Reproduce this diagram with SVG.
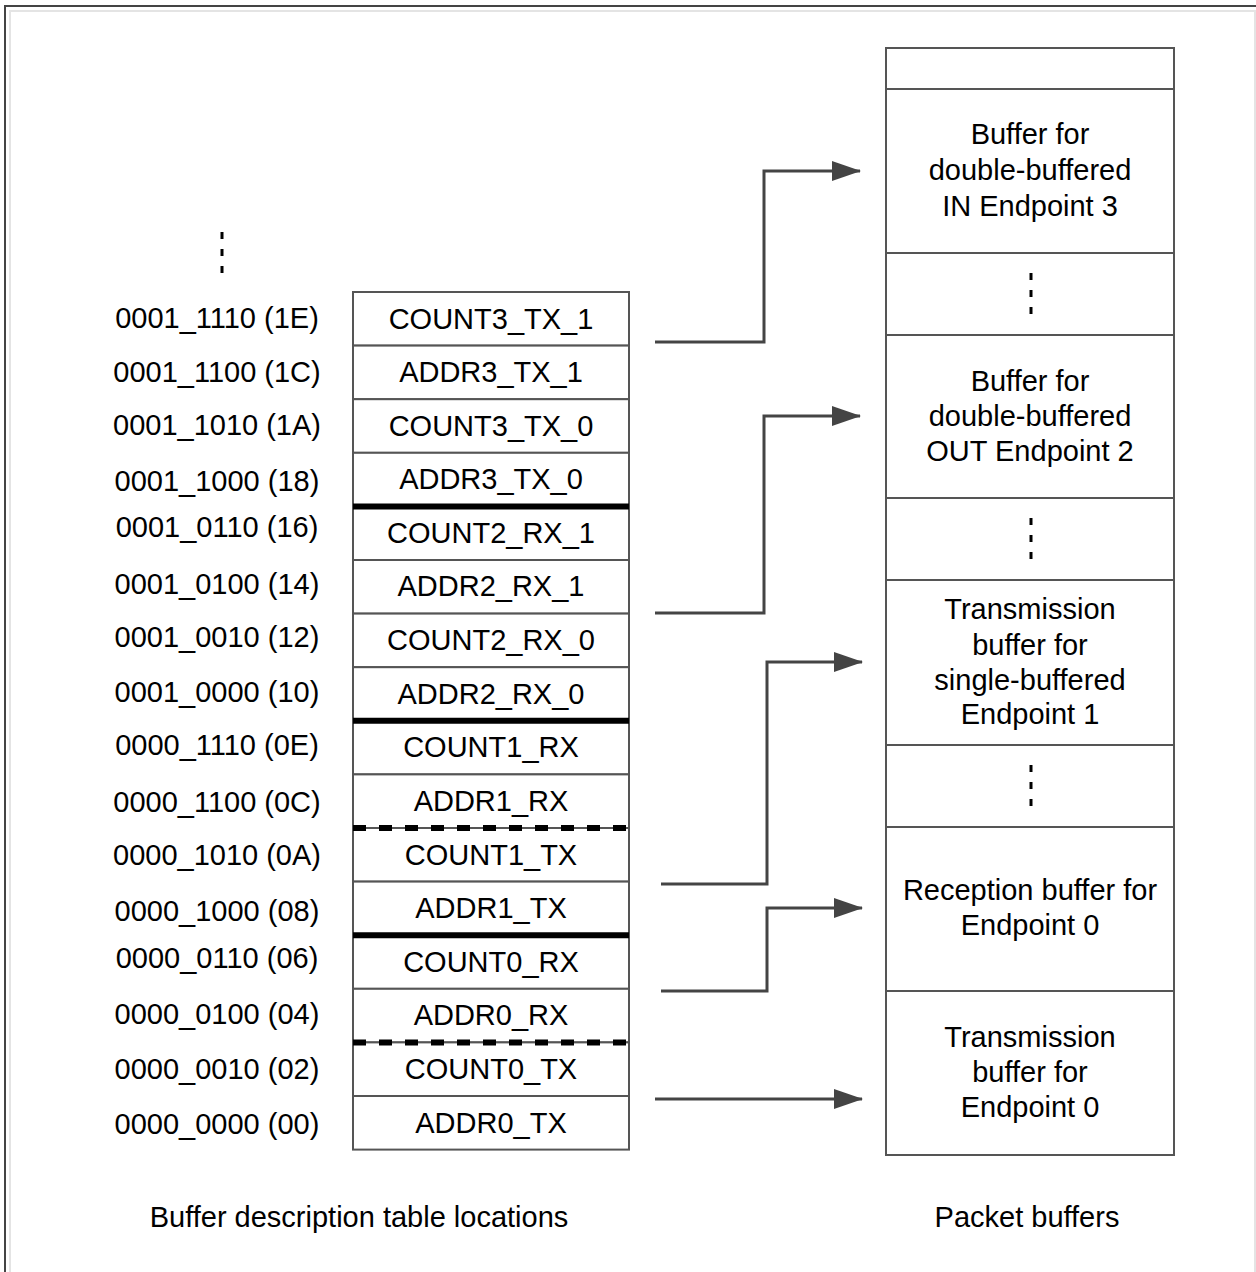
<svg xmlns="http://www.w3.org/2000/svg" width="1256" height="1272" viewBox="0 0 1256 1272">
<defs>
<style>
text{font-family:"Liberation Sans",Arial,sans-serif;font-size:29px;fill:#000;text-anchor:middle}
.cell{fill:#fff;stroke:#555;stroke-width:2}
.thick{stroke:#000;stroke-width:6}
.dash{stroke:#000;stroke-width:6;stroke-dasharray:13 13}
.dots{stroke:#000;stroke-width:3;stroke-dasharray:7 10}
.conn{fill:none;stroke:#444;stroke-width:3}
</style>
<marker id="ah" viewBox="0 0 29 20" refX="28" refY="10" markerWidth="29" markerHeight="20" markerUnits="userSpaceOnUse" orient="auto">
<path d="M0,0 L29,10 L0,20 Z" fill="#444"/>
</marker>
</defs>
<rect x="0" y="0" width="1256" height="1272" fill="#fff"/>
<rect x="5" y="6" width="1258" height="1280" fill="none" stroke="#444" stroke-width="2"/>
<rect x="10" y="11" width="1245" height="1270" fill="none" stroke="#e4e4e4" stroke-width="2"/>

<line class="dots" x1="222" y1="232" x2="222" y2="275"/>

<g id="addresses">
<text x="217" y="328">0001_1110 (1E)</text>
<text x="217" y="382">0001_1100 (1C)</text>
<text x="217" y="435">0001_1010 (1A)</text>
<text x="217" y="491">0001_1000 (18)</text>
<text x="217" y="537">0001_0110 (16)</text>
<text x="217" y="594">0001_0100 (14)</text>
<text x="217" y="647">0001_0010 (12)</text>
<text x="217" y="702">0001_0000 (10)</text>
<text x="217" y="755">0000_1110 (0E)</text>
<text x="217" y="812">0000_1100 (0C)</text>
<text x="217" y="865">0000_1010 (0A)</text>
<text x="217" y="921">0000_1000 (08)</text>
<text x="217" y="968">0000_0110 (06)</text>
<text x="217" y="1024">0000_0100 (04)</text>
<text x="217" y="1079">0000_0010 (02)</text>
<text x="217" y="1134">0000_0000 (00)</text>
</g>

<g id="table">
<rect class="cell" x="353" y="292" width="276" height="53.6"/><text x="491" y="329">COUNT3_TX_1</text>
<rect class="cell" x="353" y="345.6" width="276" height="53.6"/><text x="491" y="382">ADDR3_TX_1</text>
<rect class="cell" x="353" y="399.2" width="276" height="53.6"/><text x="491" y="436">COUNT3_TX_0</text>
<rect class="cell" x="353" y="452.8" width="276" height="53.6"/><text x="491" y="489">ADDR3_TX_0</text>
<rect class="cell" x="353" y="506.4" width="276" height="53.6"/><text x="491" y="543">COUNT2_RX_1</text>
<rect class="cell" x="353" y="560" width="276" height="53.6"/><text x="491" y="596">ADDR2_RX_1</text>
<rect class="cell" x="353" y="613.6" width="276" height="53.6"/><text x="491" y="650">COUNT2_RX_0</text>
<rect class="cell" x="353" y="667.2" width="276" height="53.6"/><text x="491" y="704">ADDR2_RX_0</text>
<rect class="cell" x="353" y="720.8" width="276" height="53.6"/><text x="491" y="757">COUNT1_RX</text>
<rect class="cell" x="353" y="774.4" width="276" height="53.6"/><text x="491" y="811">ADDR1_RX</text>
<rect class="cell" x="353" y="828" width="276" height="53.6"/><text x="491" y="865">COUNT1_TX</text>
<rect class="cell" x="353" y="881.6" width="276" height="53.6"/><text x="491" y="918">ADDR1_TX</text>
<rect class="cell" x="353" y="935.2" width="276" height="53.6"/><text x="491" y="972">COUNT0_RX</text>
<rect class="cell" x="353" y="988.8" width="276" height="53.6"/><text x="491" y="1025">ADDR0_RX</text>
<rect class="cell" x="353" y="1042.4" width="276" height="53.6"/><text x="491" y="1079">COUNT0_TX</text>
<rect class="cell" x="353" y="1096" width="276" height="53.6"/><text x="491" y="1133">ADDR0_TX</text>
<line class="thick" x1="353" y1="506.4" x2="629" y2="506.4"/>
<line class="thick" x1="353" y1="720.8" x2="629" y2="720.8"/>
<line class="thick" x1="353" y1="935.2" x2="629" y2="935.2"/>
<line class="dash" x1="353" y1="828" x2="629" y2="828"/>
<line class="dash" x1="353" y1="1042.4" x2="629" y2="1042.4"/>
</g>

<g id="buffers">
<rect class="cell" x="886" y="48" width="288" height="41"/>
<g id="buf-in3">
<rect class="cell" x="886" y="89" width="288" height="164"/>
<text x="1030" y="144">Buffer for</text>
<text x="1030" y="180">double-buffered</text>
<text x="1030" y="216">IN Endpoint 3</text>
</g>
<g id="gap1"><rect class="cell" x="886" y="253" width="288" height="82"/><line class="dots" x1="1031" y1="273" x2="1031" y2="316"/></g>
<g id="buf-out2">
<rect class="cell" x="886" y="335" width="288" height="163"/>
<text x="1030" y="391">Buffer for</text>
<text x="1030" y="426">double-buffered</text>
<text x="1030" y="461">OUT Endpoint 2</text>
</g>
<g id="gap2"><rect class="cell" x="886" y="498" width="288" height="82"/><line class="dots" x1="1031" y1="518" x2="1031" y2="561"/></g>
<g id="buf-tx1">
<rect class="cell" x="886" y="580" width="288" height="165"/>
<text x="1030" y="619">Transmission</text>
<text x="1030" y="655">buffer for</text>
<text x="1030" y="690">single-buffered</text>
<text x="1030" y="724">Endpoint 1</text>
</g>
<g id="gap3"><rect class="cell" x="886" y="745" width="288" height="82"/><line class="dots" x1="1031" y1="765" x2="1031" y2="808"/></g>
<g id="buf-rx0">
<rect class="cell" x="886" y="827" width="288" height="164"/>
<text x="1030" y="900">Reception buffer for</text>
<text x="1030" y="935">Endpoint 0</text>
</g>
<g id="buf-tx0">
<rect class="cell" x="886" y="991" width="288" height="164"/>
<text x="1030" y="1047">Transmission</text>
<text x="1030" y="1082">buffer for</text>
<text x="1030" y="1117">Endpoint 0</text>
</g>
</g>

<g id="connectors">
<polyline class="conn" points="655,342 764,342 764,171 860,171" marker-end="url(#ah)"/>
<polyline class="conn" points="655,613 764,613 764,416 860,416" marker-end="url(#ah)"/>
<polyline class="conn" points="661,884 767,884 767,662 862,662" marker-end="url(#ah)"/>
<polyline class="conn" points="661,991 767,991 767,908 862,908" marker-end="url(#ah)"/>
<polyline class="conn" points="655,1099 862,1099" marker-end="url(#ah)"/>
</g>

<text x="359" y="1227">Buffer description table locations</text>
<text x="1027" y="1227">Packet buffers</text>
</svg>
